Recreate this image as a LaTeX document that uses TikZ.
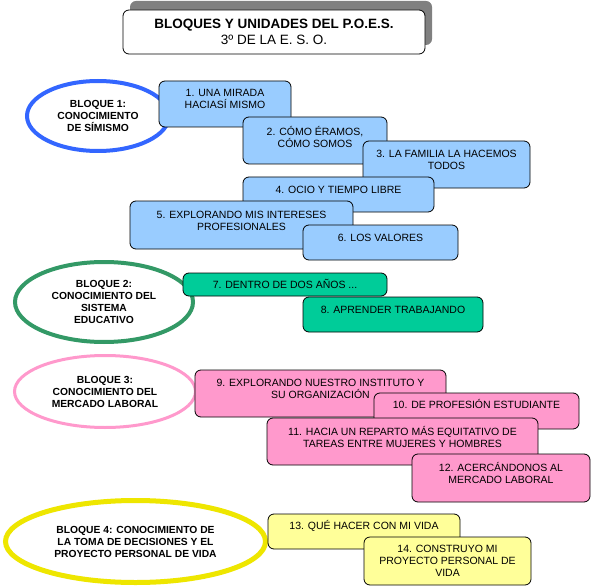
\documentclass[tikz,border=0pt]{standalone}
\usepackage{fontspec}
\setmainfont{Liberation Sans}
\usetikzlibrary{shapes.geometric}
\definecolor{ublue}{HTML}{99CCFF}
\definecolor{ugreen}{HTML}{00CC99}
\definecolor{upink}{HTML}{FF99CC}
\definecolor{uyellow}{HTML}{FFFF99}
\definecolor{eblue}{HTML}{3366FF}
\definecolor{egreen}{HTML}{339966}
\definecolor{epink}{HTML}{FF99CC}
\definecolor{eyellow}{HTML}{EEE600}
\definecolor{shadowgray}{HTML}{808080}
\newcommand\unidad[8]{%
  \node[ubox, fill=#2, minimum width=#5pt, minimum height=#6pt] (#1) at (#3,#4) {};
  \node[utxt] (#1t) at ([yshift=-#7pt]#1.north) {\rule{0pt}{9.8pt}#8};
}
\begin{document}
\begin{tikzpicture}[x=1pt,y=-1pt,
  ubox/.style={draw=black, line width=0.8pt, rounded corners=6pt, inner sep=0pt},
  utxt/.style={anchor=north, inner sep=0pt, align=center, font=\fontsize{10.5}{12}\selectfont},
  bloque/.style={ellipse, inner sep=0pt, align=center, fill=white,
    font=\bfseries\fontsize{10.3}{12}\selectfont},
  titlebox/.style={draw=black, line width=0.8pt, rounded corners=6pt, fill=white,
    inner sep=0pt, align=center, minimum width=302pt, minimum height=44pt,
    font=\fontsize{13.5}{16}\selectfont},
  shadowbox/.style={fill=shadowgray, rounded corners=6pt, inner sep=0pt,
    minimum width=302pt, minimum height=44pt}]
\useasboundingbox (0,0) rectangle (591,588);

% title
\node[shadowbox] (tshadow) at (281,23) {};
\node[titlebox] (title) at (274,32)
  {\textbf{BLOQUES Y UNIDADES DEL P.O.E.S.}\\3º DE LA E. S. O.};

% bloques
\node[bloque, draw=eblue, line width=4pt, minimum width=142pt, minimum height=70pt] (b1) at (98,116)
  {BLOQUE 1:\\CONOCIMIENTO\\DE SÍMISMO};
\node[bloque, draw=egreen, line width=4pt, minimum width=178pt, minimum height=80pt] (b2) at (104,302)
  {BLOQUE 2:\\CONOCIMIENTO DEL\\SISTEMA\\EDUCATIVO};
\node[bloque, draw=epink, line width=3pt, minimum width=181pt, minimum height=72pt] (b3) at (105,391.5)
  {BLOQUE 3:\\CONOCIMIENTO DEL\\MERCADO LABORAL};
\node[bloque, draw=eyellow, line width=5pt, minimum width=260pt, minimum height=82pt] (b4) at (135.5,541.5)
  {BLOQUE 4: CONOCIMIENTO DE\\LA TOMA DE DECISIONES Y EL\\PROYECTO PERSONAL DE VIDA};

% bloque 1 units
\unidad{u1}{ublue}{225}{104}{132}{46}{5.8}{1. UNA MIRADA\\HACIASÍ MISMO}
\unidad{u2}{ublue}{315}{140.5}{144}{47}{8.8}{2. CÓMO ÉRAMOS,\\CÓMO SOMOS}
\unidad{u3}{ublue}{446.5}{164.5}{167}{47}{6.8}{3. LA FAMILIA LA HACEMOS\\TODOS}
\unidad{u4}{ublue}{338.5}{194.5}{191}{35}{6.8}{4. OCIO Y TIEMPO LIBRE}
\unidad{u5}{ublue}{241.5}{225}{223}{48}{7.8}{5. EXPLORANDO MIS INTERESES\\PROFESIONALES}
\unidad{u6}{ublue}{380.5}{242.5}{155}{35}{6.8}{6. LOS VALORES}

% bloque 2 units
\unidad{u7}{ugreen}{285}{284.5}{204}{23}{5.8}{7. DENTRO DE DOS AÑOS ...}
\unidad{u8}{ugreen}{393}{314.5}{180}{35}{6.8}{8. APRENDER TRABAJANDO}

% bloque 3 units
\unidad{u9}{upink}{320.5}{393.5}{251}{47}{6.8}{9. EXPLORANDO NUESTRO  INSTITUTO Y\\SU ORGANIZACIÓN}
\unidad{u10}{upink}{476.5}{411}{205}{36}{5.8}{10. DE PROFESIÓN ESTUDIANTE}
\unidad{u11}{upink}{402.5}{441.5}{271}{47}{7.8}{11. HACIA UN REPARTO MÁS EQUITATIVO DE\\TAREAS ENTRE MUJERES Y HOMBRES}
\unidad{u12}{upink}{501}{478}{178}{48}{7.8}{12. ACERCÁNDONOS AL\\MERCADO LABORAL}

% bloque 4 units
\unidad{u13}{uyellow}{364}{531.5}{192}{35}{5.8}{13. QUÉ HACER CON MI VIDA}
\unidad{u14}{uyellow}{447.5}{561}{167}{48}{5.8}{14.  CONSTRUYO MI\\PROYECTO PERSONAL DE\\VIDA}
\end{tikzpicture}
\end{document}
